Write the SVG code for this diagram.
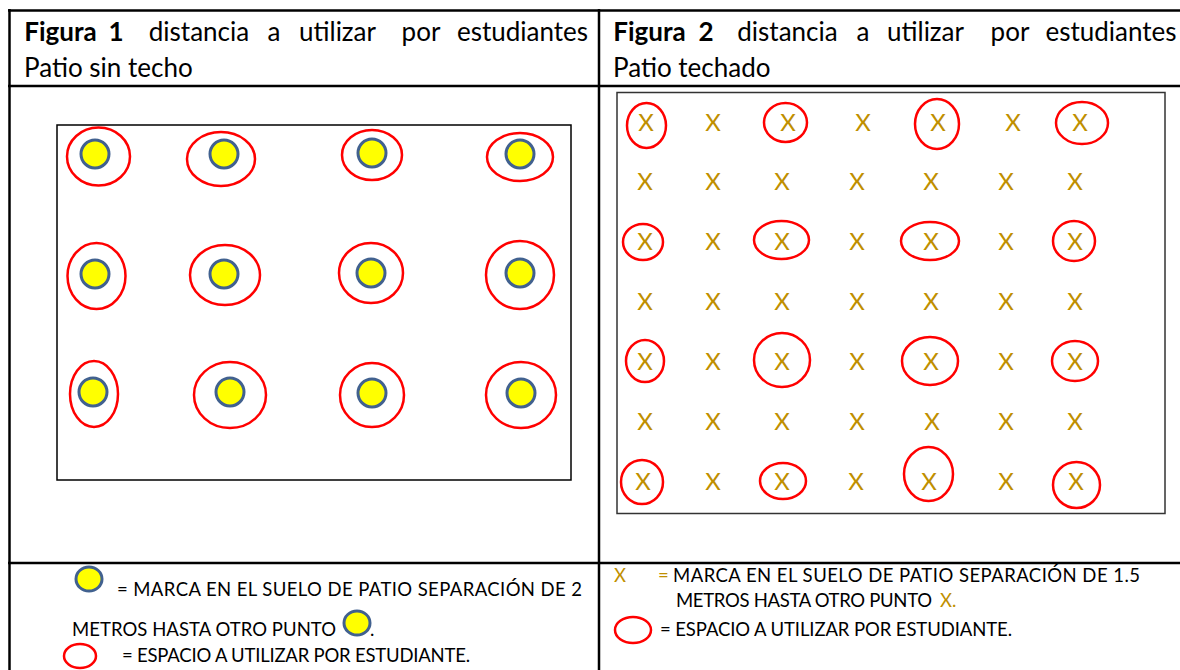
<svg xmlns="http://www.w3.org/2000/svg" width="1180" height="670" viewBox="0 0 1180 670">
<style>
.hd{font-family:Lato,"Open Sans",sans-serif;font-size:26px;fill:#000}
.b{font-weight:bold}
.lg{font-family:Lato,"Open Sans",sans-serif;font-size:18.5px;fill:#000}
.gx{font-family:Lato,"Open Sans",sans-serif;font-size:24px;fill:#BF8F00;text-anchor:middle}
.gl{fill:#BF8F00}
.tl{stroke:#000;stroke-width:2.5;fill:none}
.dot{fill:#FFFF00;stroke:#41618F;stroke-width:3}
.sp{fill:none;stroke:#FF0000;stroke-width:2.5}
</style>
<rect width="1180" height="670" fill="#fff"/>
<g id="table">
<line class="tl" x1="8" y1="10.5" x2="1180" y2="10.5"/>
<line class="tl" x1="9.5" y1="9" x2="9.5" y2="670"/>
<line class="tl" x1="599" y1="9" x2="599" y2="670"/>
<line class="tl" x1="8" y1="86" x2="1180" y2="86"/>
<line class="tl" x1="8" y1="563" x2="1180" y2="563"/>
</g>
<g id="header1" class="hd" text-anchor="middle">
<text x="60.5" y="41" class="b">Figura</text>
<text x="116" y="41" class="b">1</text>
<text x="199" y="41">distancia</text>
<text x="274" y="41">a</text>
<text x="337.5" y="41">utilizar</text>
<text x="421" y="41">por</text>
<text x="522.5" y="41">estudiantes</text>
<text x="24" y="77" text-anchor="start">Patio sin techo</text>
</g>
<g id="header2" class="hd" text-anchor="middle">
<text x="649.5" y="41" class="b">Figura</text>
<text x="706" y="41" class="b">2</text>
<text x="787.5" y="41">distancia</text>
<text x="863" y="41">a</text>
<text x="925.5" y="41">utilizar</text>
<text x="1010" y="41">por</text>
<text x="1111" y="41">estudiantes</text>
<text x="613" y="77" text-anchor="start">Patio techado</text>
</g>
<g id="figura1">
<rect x="57" y="125" width="514" height="355" fill="none" stroke="#000" stroke-width="1.5"/>
<circle class="dot" cx="95" cy="154" r="14"/>
<circle class="dot" cx="224" cy="154" r="14"/>
<circle class="dot" cx="372" cy="153" r="14"/>
<circle class="dot" cx="520" cy="154" r="14"/>
<circle class="dot" cx="95" cy="274" r="14"/>
<circle class="dot" cx="224" cy="274" r="14"/>
<circle class="dot" cx="371" cy="273" r="14"/>
<circle class="dot" cx="520" cy="273" r="14"/>
<circle class="dot" cx="93" cy="392" r="14"/>
<circle class="dot" cx="230" cy="392" r="14"/>
<circle class="dot" cx="372" cy="393" r="14"/>
<circle class="dot" cx="521" cy="393" r="14"/>
<ellipse class="sp" cx="98.5" cy="156.5" rx="31.5" ry="29"/>
<ellipse class="sp" cx="221" cy="159" rx="34" ry="27"/>
<ellipse class="sp" cx="372" cy="155" rx="30" ry="25"/>
<ellipse class="sp" cx="520" cy="157" rx="33" ry="24"/>
<ellipse class="sp" cx="96.5" cy="276" rx="29" ry="33"/>
<ellipse class="sp" cx="225" cy="275" rx="35" ry="30"/>
<ellipse class="sp" cx="371" cy="273" rx="32" ry="30"/>
<ellipse class="sp" cx="520" cy="275" rx="34" ry="34"/>
<ellipse class="sp" cx="94" cy="394" rx="24" ry="33"/>
<ellipse class="sp" cx="230" cy="395" rx="36" ry="33"/>
<ellipse class="sp" cx="372" cy="395" rx="32" ry="32"/>
<ellipse class="sp" cx="521" cy="395" rx="35" ry="33"/>
</g>
<g id="figura2">
<rect x="617" y="92.5" width="548" height="421" fill="none" stroke="#333" stroke-width="1.5"/>
<g class="gx">
<text x="646" y="130.5">X</text><text x="713" y="130.5">X</text><text x="788" y="130.5">X</text><text x="863" y="130.5">X</text><text x="938" y="130.5">X</text><text x="1013" y="130.5">X</text><text x="1080" y="130.5">X</text>
<text x="645" y="189.5">X</text><text x="713" y="189.5">X</text><text x="782" y="189.5">X</text><text x="857" y="189.5">X</text><text x="931" y="189.5">X</text><text x="1006" y="189.5">X</text><text x="1075" y="189.5">X</text>
<text x="645" y="250">X</text><text x="713" y="250">X</text><text x="782" y="250">X</text><text x="857" y="250">X</text><text x="931" y="250">X</text><text x="1006" y="250">X</text><text x="1075" y="250">X</text>
<text x="645" y="310">X</text><text x="713" y="310">X</text><text x="782" y="310">X</text><text x="857" y="310">X</text><text x="931" y="310">X</text><text x="1006" y="310">X</text><text x="1075" y="310">X</text>
<text x="645" y="370">X</text><text x="713" y="370">X</text><text x="782" y="370">X</text><text x="857" y="370">X</text><text x="931" y="370">X</text><text x="1006" y="370">X</text><text x="1075" y="370">X</text>
<text x="645" y="430">X</text><text x="713" y="430">X</text><text x="782" y="430">X</text><text x="857" y="430">X</text><text x="932" y="430">X</text><text x="1006" y="430">X</text><text x="1075" y="430">X</text>
<text x="643" y="490">X</text><text x="713" y="490">X</text><text x="782" y="490">X</text><text x="856" y="490">X</text><text x="929" y="490">X</text><text x="1006" y="490">X</text><text x="1076" y="490">X</text>
</g>
<ellipse class="sp" cx="646.5" cy="125.5" rx="19.5" ry="22.5"/>
<ellipse class="sp" cx="785.5" cy="122.5" rx="21.5" ry="19.5"/>
<ellipse class="sp" cx="937" cy="124" rx="22" ry="25"/>
<ellipse class="sp" cx="1082" cy="123" rx="26" ry="21"/>
<ellipse class="sp" cx="643" cy="242" rx="20" ry="18"/>
<ellipse class="sp" cx="781.5" cy="240" rx="27.5" ry="19"/>
<ellipse class="sp" cx="930" cy="241" rx="29" ry="19"/>
<ellipse class="sp" cx="1074" cy="241" rx="21" ry="20"/>
<ellipse class="sp" cx="645" cy="361" rx="19" ry="21"/>
<ellipse class="sp" cx="782" cy="360" rx="28" ry="27"/>
<ellipse class="sp" cx="930" cy="361" rx="28" ry="24"/>
<ellipse class="sp" cx="1075" cy="361" rx="23" ry="20"/>
<ellipse class="sp" cx="642" cy="482" rx="21" ry="22"/>
<ellipse class="sp" cx="783" cy="481" rx="23" ry="18"/>
<ellipse class="sp" cx="928.5" cy="474" rx="24.5" ry="27"/>
<ellipse class="sp" cx="1076.5" cy="485" rx="23.5" ry="23"/>
</g>
<g id="leyenda1">
<ellipse class="dot" cx="89" cy="579" rx="13" ry="12"/>
<text class="lg" x="117" y="596" textLength="465" lengthAdjust="spacing">= MARCA EN EL SUELO DE PATIO SEPARACIÓN DE 2</text>
<text class="lg" x="72" y="636" textLength="264" lengthAdjust="spacing">METROS HASTA OTRO PUNTO</text>
<ellipse class="dot" cx="357" cy="623" rx="13" ry="12"/>
<text class="lg" x="370" y="636">.</text>
<ellipse class="sp" cx="80" cy="656" rx="16" ry="12"/>
<text class="lg" x="122" y="662" textLength="348" lengthAdjust="spacing">= ESPACIO A UTILIZAR POR ESTUDIANTE.</text>
</g>
<g id="leyenda2">
<text class="lg gl" x="614" y="582">X</text>
<text class="lg gl" x="658" y="582">=</text>
<text class="lg" x="673" y="582" textLength="467" lengthAdjust="spacing">MARCA EN EL SUELO DE PATIO SEPARACIÓN DE 1.5</text>
<text class="lg" x="676" y="607" textLength="256" lengthAdjust="spacing">METROS HASTA OTRO PUNTO</text>
<text class="lg gl" x="940" y="607">X.</text>
<ellipse class="sp" cx="633" cy="630" rx="18" ry="13"/>
<text class="lg" x="660" y="636" textLength="352" lengthAdjust="spacing">= ESPACIO A UTILIZAR POR ESTUDIANTE.</text>
</g>
</svg>
